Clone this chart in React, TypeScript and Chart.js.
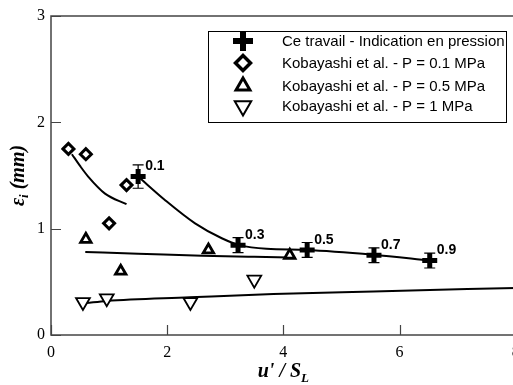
import React, { useEffect, useRef } from 'react';
import { Chart, registerables } from 'chart.js';

Chart.register(...registerables);

// ---- Data ----
const ceX = [1.5, 3.22, 4.41, 5.56, 6.52];
const ceY = [1.49, 0.845, 0.8, 0.75, 0.7];
const ceErr = [0.11, 0.07, 0.07, 0.07, 0.07];
const ceLabels = ['0.1', '0.3', '0.5', '0.7', '0.9'];

const k01X = [0.3, 0.6, 1.0, 1.3];
const k01Y = [1.75, 1.7, 1.05, 1.41];

const k05X = [0.6, 1.2, 2.71, 4.11];
const k05Y = [0.9, 0.6, 0.8, 0.75];

const k1X = [0.55, 0.96, 2.4, 3.5];
const k1Y = [0.31, 0.345, 0.31, 0.52];

// fitted curves
const ceFitX = [1.5, 1.96, 2.48, 2.94, 3.25, 3.71, 4.4, 5.55, 6.52];
const ceFitY = [1.49, 1.27, 1.05, 0.91, 0.845, 0.81, 0.8, 0.755, 0.7];
const k01FitX = [0.36, 0.5, 0.64, 0.93, 1.3];
const k01FitY = [1.7, 1.59, 1.49, 1.33, 1.23];
const k05FitX = [0.59, 1.5, 2.6, 3.5, 4.1];
const k05FitY = [0.78, 0.765, 0.745, 0.735, 0.73];
const k1FitX = [0.61, 0.96, 2.39, 3.83, 5.55, 8.0];
const k1FitY = [0.3, 0.32, 0.354, 0.386, 0.41, 0.443];

const legendLabels = [
  'Ce travail - Indication en pression',
  'Kobayashi et al. - P = 0.1 MPa',
  'Kobayashi et al. - P = 0.5 MPa',
  'Kobayashi et al. - P = 1 MPa',
];

const xTicks = [0, 2, 4, 6, 8];
const yTicks = [0, 1, 2, 3];

const pts = (xs: number[], ys: number[]) => xs.map((x, i) => ({ x, y: ys[i] }));

function drawMarker(ctx: CanvasRenderingContext2D, kind: string, x: number, y: number, r: number, bw: number) {
  ctx.save();
  ctx.strokeStyle = '#000';
  ctx.fillStyle = '#fff';
  ctx.lineWidth = bw;
  ctx.beginPath();
  if (kind === 'plus') {
    ctx.moveTo(x - r, y); ctx.lineTo(x + r, y);
    ctx.moveTo(x, y - r); ctx.lineTo(x, y + r);
    ctx.stroke();
  } else if (kind === 'diamond') {
    ctx.moveTo(x, y - r); ctx.lineTo(x + r, y); ctx.lineTo(x, y + r); ctx.lineTo(x - r, y);
    ctx.closePath(); ctx.fill(); ctx.stroke();
  } else if (kind === 'up') {
    for (let k = 0; k < 3; k++) {
      const a = k * 2 * Math.PI / 3;
      const px = x + Math.sin(a) * r, py = y - Math.cos(a) * r;
      if (k === 0) ctx.moveTo(px, py); else ctx.lineTo(px, py);
    }
    ctx.closePath(); ctx.fill(); ctx.stroke();
  } else if (kind === 'down') {
    for (let k = 0; k < 3; k++) {
      const a = Math.PI + k * 2 * Math.PI / 3;
      const px = x + Math.sin(a) * r, py = y - Math.cos(a) * r;
      if (k === 0) ctx.moveTo(px, py); else ctx.lineTo(px, py);
    }
    ctx.closePath(); ctx.fill(); ctx.stroke();
  }
  ctx.restore();
}

const decorPlugin = {
  id: 'decor',
  beforeDatasetsDraw(chart: any) {
    const { ctx, chartArea: a } = chart;
    const xs = chart.scales.x, ys = chart.scales.y;
    ctx.save();
    ctx.strokeStyle = '#444';
    ctx.lineWidth = 1.5;
    ctx.strokeRect(a.left, a.top, a.right - a.left, a.bottom - a.top);
    ctx.lineWidth = 1.2;
    ctx.beginPath();
    for (const t of xTicks) {
      const px = Math.round(xs.getPixelForValue(t)) + 0.5;
      ctx.moveTo(px, a.bottom); ctx.lineTo(px, a.bottom - 10);
    }
    for (const t of yTicks) {
      const py = Math.round(ys.getPixelForValue(t)) + 0.5;
      ctx.moveTo(a.left, py); ctx.lineTo(a.left + 10, py);
    }
    ctx.stroke();
    ctx.restore();
  },
  afterDatasetsDraw(chart: any) {
    const { ctx, chartArea: a } = chart;
    const xs = chart.scales.x, ys = chart.scales.y;
    ctx.save();
    // error bars
    ctx.strokeStyle = '#000';
    ctx.lineWidth = 1.2;
    ceX.forEach((x, i) => {
      const px = xs.getPixelForValue(x);
      const p1 = ys.getPixelForValue(ceY[i] + ceErr[i]);
      const p2 = ys.getPixelForValue(ceY[i] - ceErr[i]);
      ctx.beginPath();
      ctx.moveTo(px, p1); ctx.lineTo(px, p2);
      ctx.moveTo(px - 5.5, p1); ctx.lineTo(px + 5.5, p1);
      ctx.moveTo(px - 5.5, p2); ctx.lineTo(px + 5.5, p2);
      ctx.stroke();
    });
    // point labels
    ctx.fillStyle = '#000';
    ctx.font = 'bold 14px "Liberation Sans", Arial, sans-serif';
    ctx.textBaseline = 'middle';
    ctx.textAlign = 'left';
    ceX.forEach((x, i) => {
      ctx.fillText(ceLabels[i], xs.getPixelForValue(x) + 7, ys.getPixelForValue(ceY[i]) - 10);
    });
    // legend
    ctx.fillStyle = '#fff';
    ctx.fillRect(208.5, 31.5, 298, 91);
    ctx.strokeStyle = '#000';
    ctx.lineWidth = 1;
    ctx.strokeRect(208.5, 31.5, 298, 91);
    const kinds = ['plus', 'diamond', 'up', 'down'];
    const rows = [41, 63, 86, 106];
    const sizes = [[10, 6], [7.5, 3.5], [8, 3], [9.5, 2]];
    kinds.forEach((k, i) => {
      drawMarker(ctx, k, 243, rows[i], sizes[i][0], sizes[i][1]);
      ctx.fillStyle = '#000';
      ctx.font = '15px "Liberation Sans", Arial, sans-serif';
      ctx.textBaseline = 'middle';
      ctx.fillText(legendLabels[i], 282, rows[i] + 0.5);
    });
    // axis titles
    ctx.fillStyle = '#000';
    const big = 'bold italic 20px "Liberation Serif", "Times New Roman", serif';
    const small = 'bold italic 13px "Liberation Serif", "Times New Roman", serif';
    ctx.textBaseline = 'alphabetic';
    ctx.font = big;
    const xt1 = "u' / S";
    const w1 = ctx.measureText(xt1).width;
    ctx.font = small;
    const w2 = ctx.measureText('L').width;
    const cx = (a.left + a.right) / 2;
    const sx = cx - (w1 + w2) / 2;
    ctx.font = big;
    ctx.fillText(xt1, sx, 377);
    ctx.font = small;
    ctx.fillText('L', sx + w1, 382);
    // y title
    ctx.translate(24, (a.top + a.bottom) / 2);
    ctx.rotate(-Math.PI / 2);
    ctx.font = big;
    const e = '\u03b5';
    const we = ctx.measureText(e).width;
    ctx.font = small;
    const wi = ctx.measureText('i').width;
    ctx.font = big;
    const rest = ' (mm)';
    const wr = ctx.measureText(rest).width;
    const ty = -(we + wi + wr) / 2;
    ctx.fillText(e, ty, 0);
    ctx.font = small;
    ctx.fillText('i', ty + we, 4);
    ctx.font = big;
    ctx.fillText(rest, ty + we + wi, 0);
    ctx.restore();
  },
};

export default function App() {
  const ref = useRef<HTMLCanvasElement>(null);
  useEffect(() => {
    if (!ref.current) return;
    const line = (xs: number[], ys: number[]) => ({
      type: 'line' as const,
      data: pts(xs, ys),
      borderColor: '#000',
      borderWidth: 2,
      pointRadius: 0,
      fill: false,
      tension: 0.4,
      cubicInterpolationMode: 'monotone' as const,
      order: 2,
    });
    const chart = new Chart(ref.current, {
      type: 'scatter',
      data: {
        datasets: [
          {
            label: legendLabels[0], data: pts(ceX, ceY), pointStyle: 'cross', pointRadius: 7.5,
            pointBorderWidth: 5, borderColor: '#000', backgroundColor: '#000', order: 0,
          },
          {
            label: legendLabels[1], data: pts(k01X, k01Y), pointStyle: 'rectRot', pointRadius: 5.5,
            pointBorderWidth: 3, borderColor: '#000', backgroundColor: '#fff', order: 0,
          },
          {
            label: legendLabels[2], data: pts(k05X, k05Y), pointStyle: 'triangle', pointRadius: 6,
            pointBorderWidth: 2.8, borderColor: '#000', backgroundColor: '#fff', order: 0,
          },
          {
            label: legendLabels[3], data: pts(k1X, k1Y), pointStyle: 'triangle', rotation: 180, pointRadius: 8,
            pointBorderWidth: 1.8, borderColor: '#000', backgroundColor: '#fff', order: 0,
          },
          line(ceFitX, ceFitY) as any,
          line(k01FitX, k01FitY) as any,
          line(k05FitX, k05FitY) as any,
          line(k1FitX, k1FitY) as any,
        ],
      },
      options: {
        responsive: false,
        animation: false,
        devicePixelRatio: 1,
        layout: { padding: { top: 16, right: 14.3, left: 0, bottom: 0 } },
        plugins: { legend: { display: false }, tooltip: { enabled: false } },
        scales: {
          x: {
            type: 'linear', min: 0, max: 8,
            grid: { display: false, drawTicks: false },
            border: { display: false },
            ticks: {
              stepSize: 2, color: '#000', padding: 8,
              font: { family: '"Liberation Serif", "Times New Roman", serif', size: 16 },
            },
            afterFit: (s: any) => { s.height = 50; s.paddingLeft = 0; s.paddingRight = 0; },
          },
          y: {
            type: 'linear', min: 0, max: 3,
            grid: { display: false, drawTicks: false },
            border: { display: false },
            ticks: {
              stepSize: 1, color: '#000', padding: 6,
              font: { family: '"Liberation Serif", "Times New Roman", serif', size: 16 },
            },
            afterFit: (s: any) => { s.width = 51; s.paddingTop = 0; s.paddingBottom = 0; },
          },
        },
      },
      plugins: [decorPlugin],
    });
    return () => chart.destroy();
  }, []);
  return (
    <canvas
      ref={ref}
      width={530}
      height={385}
      style={{ position: 'fixed', left: 0, top: 0, width: 530, height: 385, background: '#fff' }}
    />
  );
}
